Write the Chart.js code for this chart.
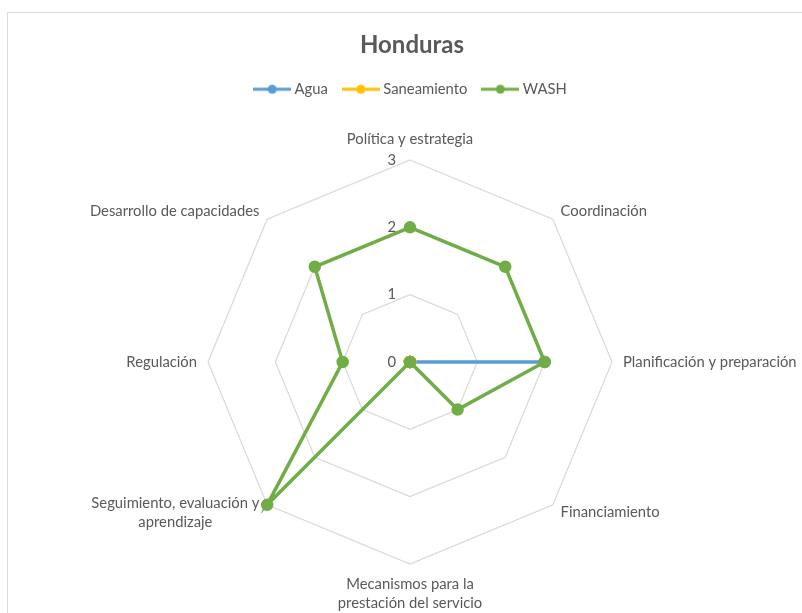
<!DOCTYPE html>
<html>
<head>
<meta charset="utf-8">
<script src="https://cdn.jsdelivr.net/npm/chart.js@4/dist/chart.umd.min.js"></script>
<style>
  html, body { margin: 0; padding: 0; background: #fff; overflow: hidden; }
  #wrap { position: relative; width: 802px; height: 613px; }
  #frame { position: absolute; left: 7px; top: 12px; width: 820px; height: 640px; border: 1px solid #d9d9d9; box-sizing: border-box; }
  canvas { position: absolute; left: 0; top: 0; }
</style>
</head>
<body>
<div id="wrap">
  <div id="frame"></div>
  <canvas id="radarChart" width="802" height="613"></canvas>
</div>
<script>
"use strict";

// ---------------- DATA ----------------
const categories = [
  "Política y estrategia",
  "Coordinación",
  "Planificación y preparación",
  "Financiamiento",
  ["Mecanismos para la", "prestación del servicio"],
  ["Seguimiento, evaluación y", "aprendizaje"],
  "Regulación",
  "Desarrollo de capacidades",
];
const aguaValues = [0, 0, 2, 0, 0, 0, 0, 0];
const saneamientoValues = [0, 0, 0, 0, 0, 0, 0, 0];
const washValues = [2, 2, 2, 1, 0, 3, 1, 2];
const tickValues = [0, 1, 2, 3];

const TEXT = "#595959";
const FONT = "Lato, 'Open Sans', sans-serif";
const LABEL_SIZE = 14.8;

// legend swatch: line with a round marker
function swatch(color) {
  const c = document.createElement("canvas");
  c.width = 38;
  c.height = 12;
  const g = c.getContext("2d");
  g.strokeStyle = color;
  g.lineWidth = 3;
  g.beginPath();
  g.moveTo(0, 6);
  g.lineTo(38, 6);
  g.stroke();
  g.fillStyle = color;
  g.beginPath();
  g.arc(19, 6, 4.5, 0, Math.PI * 2);
  g.fill();
  return c;
}

// ---------------- PLUGIN: labels & ticks ----------------
const radarText = {
  id: "radarText",
  afterDraw(chart) {
    const scale = chart.scales.r;
    const ctx = chart.ctx;
    ctx.save();
    ctx.fillStyle = TEXT;
    ctx.font = LABEL_SIZE + "px " + FONT;

    // tick labels to the left of the vertical axis
    ctx.textAlign = "right";
    ctx.textBaseline = "middle";
    tickValues.forEach((v) => {
      const d = scale.getDistanceFromCenterForValue(v);
      ctx.fillText(String(v), scale.xCenter - 14, scale.yCenter - d);
    });

    // point labels (multi-line blocks are centred within themselves)
    const lineH = 19;
    ctx.textAlign = "center";
    categories.forEach((label, i) => {
      const lines = Array.isArray(label) ? label : [label];
      const p = scale.getPointPosition(i, scale.drawingArea + 11);
      const w = Math.max(...lines.map((ln) => ctx.measureText(ln).width));
      const dx = p.x - scale.xCenter;
      const dy = p.y - scale.yCenter;
      let cx = p.x;
      if (Math.abs(dx) >= 1) cx = dx > 0 ? p.x + w / 2 : p.x - w / 2;
      let top;
      if (Math.abs(dx) < 1 && dy < 0) top = p.y - lines.length * lineH;
      else if (Math.abs(dx) < 1 && dy > 0) top = p.y;
      else top = p.y - (lines.length * lineH) / 2;
      lines.forEach((ln, k) => {
        ctx.fillText(ln, cx, top + lineH * k + lineH / 2);
      });
    });
    ctx.restore();
  },
};

const dot = (color) => ({
  borderColor: color,
  backgroundColor: color,
  pointBackgroundColor: color,
  pointBorderColor: color,
  pointRadius: 4.5,
  pointHoverRadius: 4.5,
  borderWidth: 3.5,
  fill: false,
});

new Chart(document.getElementById("radarChart"), {
  type: "radar",
  data: {
    labels: categories,
    datasets: [
      { label: "Agua", data: aguaValues, ...dot("#5B9BD5"), order: 3 },
      { label: "Saneamiento", data: saneamientoValues, ...dot("#FFC000"), order: 2 },
      { label: "WASH", data: washValues, ...dot("#70AD47"), order: 1 },
    ],
  },
  options: {
    responsive: false,
    animation: false,
    layout: { padding: { top: 31, bottom: 40, left: 206, right: 184 } },
    elements: { line: { tension: 0 } },
    plugins: {
      title: {
        display: true,
        text: "Honduras",
        color: TEXT,
        font: { family: FONT, size: 24, weight: "bold" },
        padding: { top: 0, bottom: 4 },
      },
      legend: {
        position: "top",
        labels: {
          color: TEXT,
          font: { family: FONT, size: LABEL_SIZE },
          usePointStyle: true,
          pointStyleWidth: 30,
          padding: 18,
          generateLabels: (chart) =>
            chart.data.datasets.map((ds, i) => ({
              text: ds.label,
              pointStyle: swatch(ds.borderColor),
              fontColor: TEXT,
              datasetIndex: i,
              lineWidth: 0,
            })),
        },
      },
      tooltip: { enabled: false },
    },
    scales: {
      r: {
        min: 0,
        max: 3,
        ticks: { stepSize: 1, display: false },
        angleLines: { display: false },
        grid: { color: "#d9d9d9", lineWidth: 1.2 },
        pointLabels: { display: false },
        afterFit: (scale) => {
          scale.xCenter = 410;
          scale.yCenter = 362;
          scale.drawingArea = 202;
        },
      },
    },
  },
  plugins: [radarText],
});
</script>
</body>
</html>
